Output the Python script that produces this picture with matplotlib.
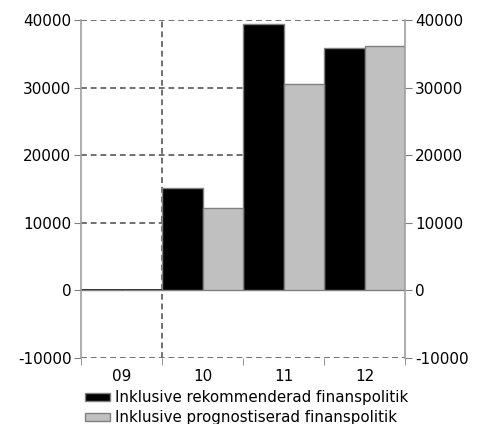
import matplotlib.pyplot as plt
import numpy as np
from matplotlib.patches import Patch

years = ["09", "10", "11", "12"]
rekommenderad = [0, 15200, 39450, 35850]
prognostiserad = [0, 12100, 30500, 36150]
yticks = [-10000, 0, 10000, 20000, 30000, 40000]

plt.rcParams['font.family'] = ['DejaVu Sans']
plt.rcParams['axes.unicode_minus'] = False
fig = plt.figure(figsize=(4.8, 4.24), dpi=100)
ax = fig.add_axes([0.169, 0.156, 0.675, 0.797])

x = np.arange(len(years))
w = 0.5
grid_kw = dict(color='#707070', lw=1.4, linestyle=(0, (3, 2)), zorder=1)

# dashed grid plus the divider between outcome and forecast years
for y in yticks:
    if y != 0:
        ax.axhline(y, **grid_kw)
ax.axvline(0.5, **grid_kw)
ax.axhline(0, color='black', lw=1.2, zorder=1)

ax.bar(x - w / 2, rekommenderad, width=w, color='black', edgecolor='#808080',
       lw=1, zorder=2, label='Inklusive rekommenderad finanspolitik')
ax.bar(x + w / 2, prognostiserad, width=w, color='#c0c0c0', edgecolor='#808080',
       lw=1, zorder=2, label='Inklusive prognostiserad finanspolitik')

ax.set_xlim(-0.5, 3.5)
ax.set_ylim(-10000, 40000)
ax.set_yticks(yticks)
ax.set_xticks(x)
ax.set_xticklabels(years)
ax.set_xticks([-0.5, 0.5, 1.5, 2.5, 3.5], minor=True)
ax.tick_params(axis='x', which='major', length=0, labelsize=11, pad=8)
ax.tick_params(axis='x', which='minor', length=5, color='#808080', direction='out')
ax.tick_params(axis='y', labelsize=11, length=5, color='#808080',
               left=True, right=True, labelleft=True, labelright=True, pad=2)

for s in ['top', 'bottom']:
    ax.spines[s].set_visible(False)
for s in ['left', 'right']:
    ax.spines[s].set_color('#a0a0a0')
    ax.spines[s].set_linewidth(1.2)

handles = [Patch(facecolor='black', edgecolor='#808080', lw=1),
           Patch(facecolor='#c0c0c0', edgecolor='#808080', lw=1)]
fig.legend(handles, ['Inklusive rekommenderad finanspolitik',
                     'Inklusive prognostiserad finanspolitik'],
           loc='upper left', bbox_to_anchor=(0.178, 0.080), frameon=False,
           fontsize=10.8, handlelength=1.65, handleheight=0.4, handletextpad=0.35,
           labelspacing=0.34, borderaxespad=0, borderpad=0)

fig.savefig('out.png', dpi=100)
